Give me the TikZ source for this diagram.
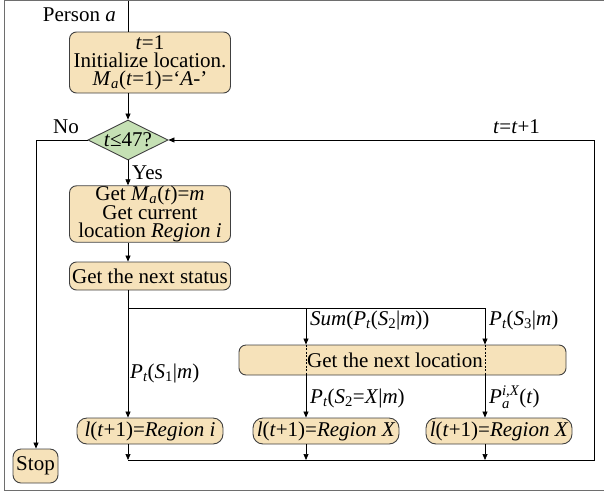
\documentclass[tikz,border=0pt]{standalone}
\usepackage{fontspec}
\usepackage{amsmath}
\setmainfont{Liberation Serif}
\usetikzlibrary{shapes.geometric,arrows.meta}
\definecolor{boxfill}{RGB}{246,226,186}
\definecolor{diafill}{RGB}{197,224,180}
\definecolor{edgecol}{RGB}{64,64,64}
\definecolor{framecol}{RGB}{110,110,110}
\begin{document}
\begin{tikzpicture}[x=1pt,y=-1pt, font=\fontsize{21}{18}\selectfont,
  box/.style={draw=edgecol, fill=boxfill, rounded corners=7pt, line width=0.9pt, inner sep=0pt, align=center},
  rbox/.style={box, rounded corners=10pt, minimum width=146, minimum height=26},
  dia/.style={diamond, draw=edgecol, fill=diafill, line width=0.9pt, inner sep=0pt, minimum width=80, minimum height=40},
  conn/.style={line width=0.7pt, draw=black},
  hidden/.style={line width=0.5pt, draw=black, dash pattern=on 2pt off 1.5pt},
  arr/.style={conn, -{Triangle[length=6pt,width=5pt]}},
  lab/.style={anchor=base west, inner sep=0pt},
  frame/.style={draw=framecol, line width=1pt}
]
\useasboundingbox (0,0) rectangle (604,493);
\draw[frame] (604,0.5) -- (4,0.5) -- (4,490) -- (604,490);

\coordinate (top) at (128,0.5);
\node[box, minimum width=161, minimum height=61] (init) at (150,62.5)
  {\textit{t}=1\\Initialize location.\\\textit{M}$_{\textit{a}}$(\textit{t}=1)=‘\textit{A-}’};
\node[dia, label={[inner sep=0pt]center:\textit{t}≤47?}] (dia) at (128,140) {};
\node[box, minimum width=161, minimum height=52] (get) at (150,214)
  {Get \textit{M}$_{\textit{a}}$(\textit{t})=\textit{m}\\Get current\\location \textit{Region i}};
\node[box, minimum width=161, minimum height=28] (status) at (150,276) {Get the next status};
\node[box, minimum width=327, minimum height=30] (loc) at (402.5,360) {Get the next location\hspace*{15pt}};
\node[rbox] (r1) at (150,431) {\textit{l}(\textit{t}+1)=\textit{Region i}};
\node[rbox] (r2) at (326,431) {\textit{l}(\textit{t}+1)=\textit{Region X}};
\node[rbox] (r3) at (499,431) {\textit{l}(\textit{t}+1)=\textit{Region X}};
\node[box, minimum width=45, minimum height=34, rounded corners=8pt] (stop) at (35.5,466) {Stop};

% labels
\node[anchor=base east, inner sep=0pt] (person) at (116,21) {Person \textit{a}};
\node[anchor=base east, inner sep=0pt] (no) at (79,133) {No};
\node[lab] (yes) at (132,179) {Yes};
\node[lab] (inc) at (493,133) {\textit{t}=\textit{t}+1};
\node[lab] (l1) at (130,378) {\textit{P}$_{\textit{t}}$(\textit{S}$_{\text{1}}$|\textit{m})};
\node[lab] (l2) at (310,325) {\textit{Sum}(\textit{P}$_{\textit{t}}$(\textit{S}$_{\text{2}}$|\textit{m}))};
\node[lab] (l3) at (489,325) {\textit{P}$_{\textit{t}}$(\textit{S}$_{\text{3}}$|\textit{m})};
\node[lab] (l4) at (310,403) {\textit{P}$_{\textit{t}}$(\textit{S}$_{\text{2}}$=\textit{X}|\textit{m})};
\node[lab] (l5) at (489,403) {\textit{P}$^{\textit{i,X}}_{\textit{a}}$(\textit{t})};

% connectors
\draw[conn] (top) -- (init.north -| top);
\draw[arr] (init.south -| dia.north) -- (dia.north);
\coordinate (nocorner) at (36,140);
\draw[arr] (dia.west) -- (nocorner) -- (nocorner |- stop.north);
\draw[arr] (dia.south) -- (dia.south |- get.north);
\draw[arr] (get.south -| dia.south) -- (status.north -| dia.south);
\draw[arr] (status.south -| dia.south) -- (r1.north -| dia.south);
\coordinate (b1) at (128,308);
\coordinate (b2) at (306,308);
\coordinate (b3) at (485,308);
\draw[conn] (b1) -- (b3);
\draw[arr] (b2) -- (b2 |- loc.north);
\draw[arr] (b3) -- (b3 |- loc.north);
\draw[hidden] (loc.north -| b2) -- (loc.south -| b2);
\draw[hidden] (loc.north -| b3) -- (loc.south -| b3);
\draw[arr] (loc.south -| b2) -- (r2.north -| b2);
\draw[arr] (loc.south -| b3) -- (r3.north -| b3);
\coordinate (e1) at (128,460);
\coordinate (e2) at (306,460);
\coordinate (e3) at (485,460);
\coordinate (ec) at (594,460);
\coordinate (rc) at (594,140);
\draw[arr] (r1.south -| e1) -- (e1);
\draw[arr] (r2.south -| e2) -- (e2);
\draw[arr] (r3.south -| e3) -- (e3);
\draw[arr] (e1) -- (ec) -- (rc) -- (dia.east);
\end{tikzpicture}
\end{document}
